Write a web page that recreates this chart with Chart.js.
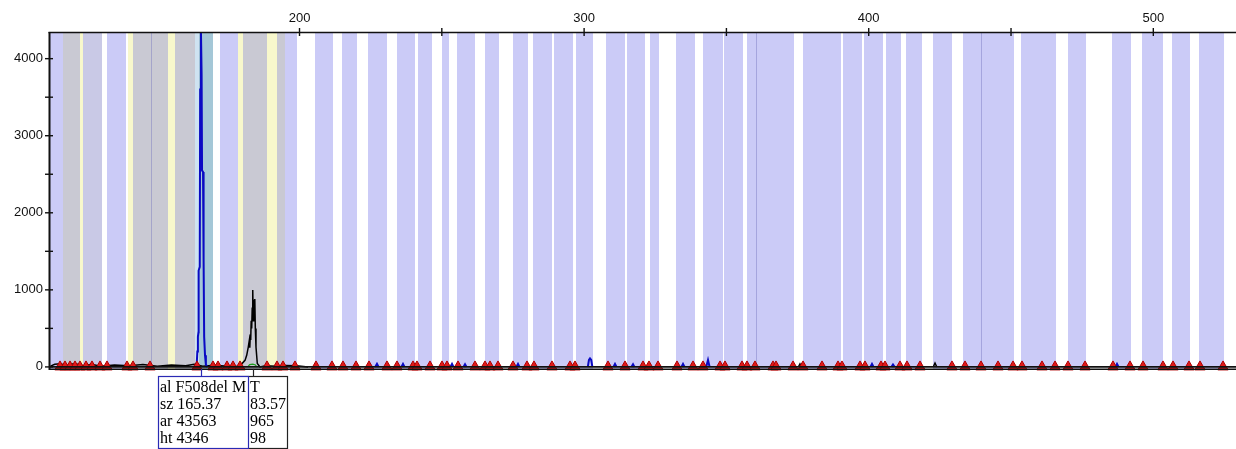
<!DOCTYPE html>
<html>
<head>
<meta charset="utf-8">
<script src="https://cdn.jsdelivr.net/npm/chart.js@4/dist/chart.umd.min.js"></script>
<style>
html,body{margin:0;padding:0;background:#fff;}
#wrap{width:1236px;height:449px;position:relative;}
canvas{display:block;}
</style>
</head>
<body>
<div id="wrap"><canvas id="c" width="1236" height="449"></canvas></div>
<script>
// ---------- axis ----------
const xMin = 112.33, xMax = 529.05;
const yMin = -40, yMax = 4346;
const xMajorTicks = [200, 300, 400, 500];
const xMinorTicks = [250, 350, 450];
const yTickValues = [0, 500, 1000, 1500, 2000, 2500, 3000, 3500, 4000];
const yLabelValues = [0, 1000, 2000, 3000, 4000];

// ---------- bins (size units) ----------
const binStart = [112.33,116.90,122.87,123.92,132.36,139.74,141.49,153.79,156.25,163.28,164.68,172.06,178.39,180.14,188.58,192.09,194.90,
  205.44,214.93,224.06,234.25,241.63,250.07,255.34,265.17,275.01,282.04,289.42,297.15,307.69,315.07,323.15,332.29,341.77,349.15,357.23,
  376.91,390.96,398.34,406.07,413.10,422.59,433.13,453.51,470.02,485.48,496.02,506.57,516.05];
const binEnd = [116.90,122.87,123.92,130.60,139.03,141.49,153.79,156.25,163.28,164.68,169.60,178.39,180.14,188.58,192.09,194.90,199.12,
  211.77,220.20,230.74,240.58,246.55,252.53,261.66,270.09,280.28,288.72,296.10,303.12,314.37,321.39,326.31,338.96,348.80,355.83,373.75,
  390.26,397.64,405.02,411.34,418.72,429.26,451.05,465.81,476.35,492.16,503.40,512.89,524.84];
const binKind = ['lav','gray','yel','glav','lav','yel','gray','yel','gray','cyan','teal','lav','yel','gray','yel','gray','lav',
  'lav','lav','lav','lav','lav','lav','lav','lav','lav','lav','lav','lav','lav','lav','lav','lav','lav','lav','lav',
  'lav','lav','lav','lav','lav','lav','lav','lav','lav','lav','lav','lav','lav'];
const binLineSizes = [147.82, 360.40, 439.45];

// ---------- traces ----------
const blueSize   = [162.90,163.87,164.10,164.30,164.50,164.55,164.95,165.10,165.37,165.60,165.75,166.10,166.30,166.50,166.80,167.10,167.60,null,
  226.6,227.22,227.8,null,235.8,236.36,236.9,null,253.0,253.58,254.1,null,257.6,258.15,258.7,null,276.2,276.77,277.3,null,
  301.3,301.7,302.07,302.5,302.9,null,310.3,310.85,311.4,null,316.6,317.18,317.7,null,334.2,334.75,335.3,null,342.9,343.53,344.1,null,
  400.6,401.15,401.7,null,408.0,408.53,409.1,null,486.7,487.24,487.8];
const blueHeight = [0,20,200,390,450,1250,1300,3600,4346,3800,2550,2530,1400,390,150,30,0,null,
  0,40,0,null,0,40,0,null,0,40,0,null,0,35,0,null,0,40,0,null,
  0,90,110,90,0,null,0,40,0,null,0,35,0,null,0,40,0,null,0,90,0,null,
  0,40,0,null,0,30,0,null,0,40,0];

const blackSize   = [112.5,114.0,116.0,118.0,121.0,124.0,127.0,130.0,135.0,140.0,145.0,150.0,155.0,160.0,163.0,166.0,170.0,175.0,178.49,179.69,180.85,181.44,182.00,
  182.36,182.53,182.71,182.85,183.02,183.20,183.38,183.57,183.73,183.90,184.08,184.29,184.47,184.71,185.17,186.12,188.0,192.0,195.0,199.0,203.0,null,
  375.3,375.85,376.4,null,422.7,423.29,423.9];
const blackHeight = [10,35,40,20,45,15,35,10,25,15,30,10,25,15,35,10,20,10,5,40,85,150,257,
  344,250,420,350,600,500,760,998,600,870,700,880,500,257,45,0,15,10,20,15,0,null,
  0,40,0,null,0,50,0];

const greenSize   = [181.8,182.5,183.6,184.5,185.0];
const greenHeight = [0,30,35,25,0];

// ---------- peak markers (red triangles) ----------
const markerSize = [115.84,117.60,119.36,121.11,122.87,124.98,127.09,129.90,132.36,139.38,141.49,147.47,163.98,169.60,171.36,174.52,176.63,179.09,
  188.58,192.09,194.20,198.41,205.79,211.41,215.28,219.85,224.42,230.74,234.25,239.88,241.28,245.85,250.07,251.82,255.69,261.66,265.17,266.93,
  269.74,275.01,279.93,282.39,288.72,295.04,296.80,308.39,314.37,320.69,322.80,325.96,332.64,338.26,341.77,347.75,349.50,355.48,357.23,360.04,
  366.37,367.42,373.40,376.91,383.59,389.21,390.61,396.94,398.69,404.32,405.72,410.99,413.45,418.02,429.26,433.83,439.45,445.43,450.70,453.86,
  460.89,465.46,470.02,476.00,485.83,491.81,496.38,503.40,506.92,512.54,516.40,524.49];

// ---------- peak labels ----------
const labelPeakSize = [183.57, 165.37];
const labelLines = [["T","83.57","965","98"], ["al F508del M","sz 165.37","ar 43563","ht 4346"]];
const labelBorder = ['#222222', '#2a2ab4'];

const binColors = {lav:'#cbcbf7', gray:'#c9c9d3', yel:'#f8f8cc', glav:'#c9c9e6', cyan:'#cfe3f1', teal:'#a4c7d7'};

function pts(xs, ys){ return xs.map((v,i)=> v===null ? {x:NaN,y:null} : {x:v, y:ys[i]}); }

const binsPlugin = {
  id:'bins',
  beforeDatasetsDraw(chart){
    const {ctx, chartArea:a, scales:{x}} = chart;
    ctx.save();
    for (let i=0;i<binStart.length;i++){
      const x1 = Math.max(a.left, x.getPixelForValue(binStart[i]));
      const x2 = Math.min(a.right, x.getPixelForValue(binEnd[i]));
      ctx.fillStyle = binColors[binKind[i]];
      ctx.fillRect(x1, a.top, x2-x1, a.bottom-a.top);
    }
    ctx.strokeStyle = 'rgba(120,120,190,0.45)';
    ctx.lineWidth = 1;
    binLineSizes.forEach(s=>{
      const px = Math.round(x.getPixelForValue(s))+0.5;
      ctx.beginPath(); ctx.moveTo(px,a.top); ctx.lineTo(px,a.bottom); ctx.stroke();
    });
    ctx.restore();
  }
};

function seg(ctx,x1,y1,x2,y2){ctx.beginPath();ctx.moveTo(x1,y1);ctx.lineTo(x2,y2);ctx.stroke();}

const axesPlugin = {
  id:'axesLines',
  afterDatasetsDraw(chart){
    const {ctx, chartArea:a, scales:{x,y}} = chart;
    ctx.save();
    ctx.strokeStyle = '#111';
    ctx.lineWidth = 1.6;
    const y0 = y.getPixelForValue(0);
    seg(ctx, a.left, y0, a.right, y0);
    seg(ctx, a.left, a.bottom-0.8, a.right, a.bottom-0.8);
    seg(ctx, a.left-1.5, a.top+0.5, a.right, a.top+0.5);
    ctx.lineWidth = 2;
    seg(ctx, a.left-0.5, a.top, a.left-0.5, a.bottom);
    ctx.lineWidth = 1.4;
    [...xMajorTicks, ...xMinorTicks].forEach(v=>{
      const px = x.getPixelForValue(v);
      seg(ctx, px, a.top-4, px, a.top+4);
    });
    yTickValues.forEach(v=>{
      const py = y.getPixelForValue(v);
      seg(ctx, a.left-5, py, a.left+3, py);
    });
    ctx.restore();
  }
};

const labelPlugin = {
  id:'peakLabels',
  afterDraw(chart){
    const {ctx, scales:{x,y}} = chart;
    const y0 = y.getPixelForValue(0);
    const top = 376.5, bottom = 448.5;
    ctx.save();
    labelPeakSize.forEach((s,i)=>{
      const px = Math.round(x.getPixelForValue(s))+0.5;
      let left, right, tx;
      if (i===0){ left = px-43; right = px+34; tx = px-3.5; }
      else { left = px-43; right = px+47; tx = px-41.5; }
      ctx.strokeStyle = labelBorder[i]; ctx.lineWidth = 1.2;
      seg(ctx, px, y0+2, px, top);
      ctx.fillStyle = '#fff';
      ctx.fillRect(left, top, right-left, bottom-top);
      ctx.strokeRect(left, top, right-left, bottom-top);
      ctx.save();
      ctx.beginPath(); ctx.rect(left+1, top+1, right-left-2, bottom-top-2); ctx.clip();
      ctx.fillStyle = '#000';
      ctx.font = '16px "Liberation Serif", "Times New Roman", serif';
      ctx.textBaseline = 'alphabetic';
      labelLines[i].forEach((t,k)=>{ ctx.fillText(t, tx, 392 + k*17); });
      ctx.restore();
    });
    ctx.restore();
  }
};

new Chart(document.getElementById('c'), {
  type:'line',
  data:{ datasets:[
    { label:'markers', type:'scatter', data: markerSize.map(s=>({x:s, y:0})), pointStyle:'triangle', pointRadius:6,
      backgroundColor:'#e01a1a', borderColor:'#b00000', borderWidth:1, showLine:false, clip:false, order:0 },
    { label:'blue', data: pts(blueSize, blueHeight), borderColor:'#0a0ac4', borderWidth:2, pointRadius:0, tension:0, spanGaps:false, order:1 },
    { label:'black', data: pts(blackSize, blackHeight), borderColor:'#000', borderWidth:1.5, pointRadius:0, tension:0, spanGaps:false, order:2 },
    { label:'green', data: pts(greenSize, greenHeight), borderColor:'#1c9c1c', borderWidth:1.2, pointRadius:0, tension:0, order:3 }
  ]},
  options:{
    responsive:false, animation:false, events:[],
    layout:{ autoPadding:false, padding:{ left:0, right:0, top:0, bottom:79 } },
    plugins:{ legend:{display:false}, tooltip:{enabled:false} },
    scales:{
      x:{ type:'linear', position:'top', min:xMin, max:xMax,
        afterBuildTicks: s => { s.ticks = [...xMajorTicks, ...xMinorTicks].sort((a,b)=>a-b).map(v=>({value:v})); },
        afterFit: s => { s.height = 32; s.paddingLeft = 0; s.paddingRight = 0; },
        ticks:{ autoSkip:false, maxRotation:0, padding:6, color:'#111',
          font:{ family:'"Liberation Sans", Arial, sans-serif', size:13 },
          callback: v => xMajorTicks.includes(v) ? String(v) : '' },
        grid:{ drawOnChartArea:false, drawTicks:false }, border:{ display:false } },
      y:{ type:'linear', min:yMin, max:yMax,
        afterBuildTicks: s => { s.ticks = yTickValues.map(v=>({value:v})); },
        afterFit: s => { s.width = 50; s.paddingTop = 0; s.paddingBottom = 0; },
        ticks:{ autoSkip:false, padding:7, color:'#111',
          font:{ family:'"Liberation Sans", Arial, sans-serif', size:13 },
          callback: v => yLabelValues.includes(v) ? String(v) : '' },
        grid:{ drawOnChartArea:false, drawTicks:false }, border:{ display:false } }
    }
  },
  plugins:[binsPlugin, axesPlugin, labelPlugin]
});
</script>
</body>
</html>
